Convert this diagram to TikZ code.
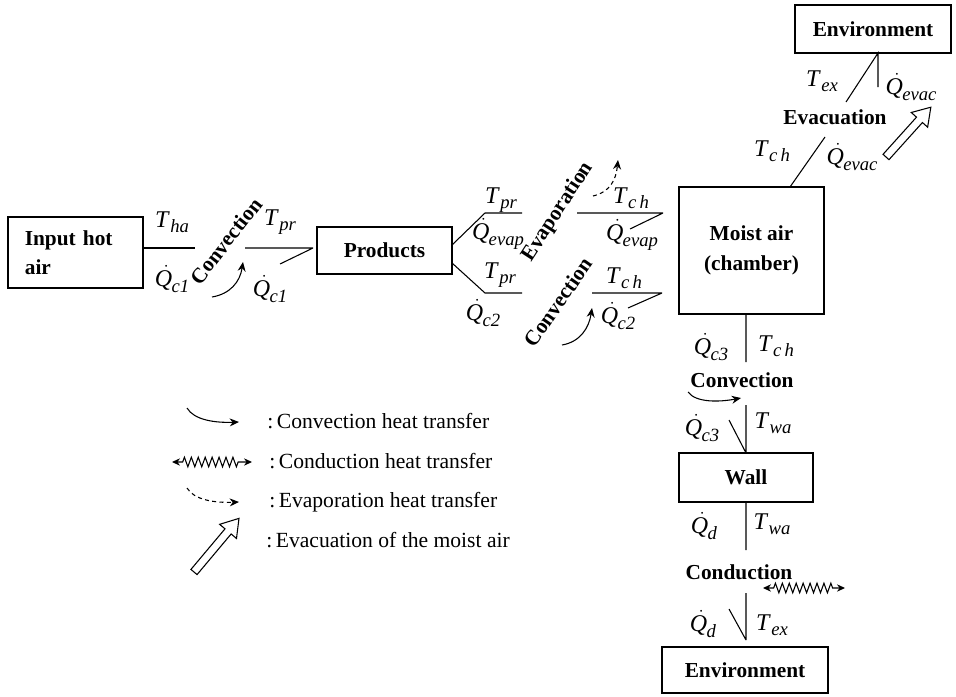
\documentclass[tikz,border=0pt]{standalone}
\usepackage{fontspec}
\setmainfont{Liberation Serif}
\usetikzlibrary{arrows.meta,decorations.pathmorphing,calc}
\newcommand\Tl[1]{\textit{T}\kern0.3pt\raisebox{-0.5ex}{\fontsize{14}{14}\selectfont\textit{#1}}}
\newcommand\Ql[1]{\ensuremath{\dot{\hbox{\itshape Q\kern4pt}}}\kern-4.5pt\raisebox{-0.5ex}{\fontsize{14}{14}\selectfont\textit{#1}}}
\tikzset{
  box/.style={draw, line width=0.9pt, inner sep=0pt, font=\fontsize{16}{22}\selectfont\bfseries, align=center},
  lab/.style={font=\fontsize{18}{18}\selectfont, inner sep=0pt},
  mode/.style={font=\fontsize{16}{16}\selectfont\bfseries, inner sep=0pt},
  leg/.style={font=\fontsize{16.2}{17}\selectfont, anchor=west, inner sep=0pt},
  wire/.style={line width=0.8pt},
  conv/.style={line width=0.8pt, -{Stealth[length=7pt,width=6pt]}},
  evap/.style={line width=0.8pt, dashed, dash pattern=on 3pt off 2.5pt, -{Stealth[length=7pt,width=6pt]}},
  cond/.style={line width=0.8pt, {Stealth[length=6pt,width=5.5pt]}-{Stealth[length=6pt,width=5.5pt]},
    decorate, decoration={zigzag, amplitude=3.6pt, segment length=5.2pt, pre length=8pt, post length=8pt}},
  pics/hollowarrow/.style={code={
    \draw[line width=0.8pt, fill=white] (0,-4) -- (#1-17,-4) -- (#1-17,-11) -- (#1,0) -- (#1-17,11) -- (#1-17,4) -- (0,4) -- cycle;}}
}
\begin{document}
\begin{tikzpicture}[x=0.75pt,y=-0.75pt]
\useasboundingbox (0,0) rectangle (956,696);
% boxes
\node[box, minimum width=101.25pt, minimum height=53.25pt, text width=76pt, align=left] (inp) at (75.5,252.5) {Input hot\\air};
\node[box, minimum width=101.25pt, minimum height=35.25pt] (prod) at (384.5,250.5) {Products};
\node[box, minimum width=108.75pt, minimum height=95.25pt] (ch) at (751.5,250.5) {Moist air\\(chamber)};
\node[box, minimum width=117pt, minimum height=36pt] (envt) at (873,29) {Environment};
\node[box, minimum width=100.5pt, minimum height=36.75pt] (wall) at (746,477.5) {Wall};
\node[box, minimum width=124.5pt, minimum height=34.5pt] (envb) at (745,670) {Environment};
% coordinates
\coordinate (a1) at (195,248);
\coordinate (a2) at (245,248); \coordinate (a3) at (313,248); \coordinate (a4) at (280,264);
\coordinate (p1) at (452,245); \coordinate (p2) at (485,213); \coordinate (p3) at (522,213);
\coordinate (p4) at (452,263); \coordinate (p5) at (485,293); \coordinate (p6) at (522,293);
\coordinate (c1) at (577,213); \coordinate (c2) at (663,213); \coordinate (c3) at (630,229);
\coordinate (c4) at (592,293); \coordinate (c5) at (662,293); \coordinate (c6) at (628,308);
\coordinate (e1) at (790,187); \coordinate (e2) at (825,137); \coordinate (e3) at (846,102); \coordinate (e4) at (878,53); \coordinate (e5) at (878,87);
\coordinate (w1) at (746,314); \coordinate (w2) at (746,362); \coordinate (w3) at (746,405); \coordinate (w4) at (746,453); \coordinate (w5) at (729,420);
\coordinate (d1) at (746,502); \coordinate (d2) at (746,550); \coordinate (d3) at (746,593); \coordinate (d4) at (746,640); \coordinate (d5) at (729,609);
% wires
\draw[wire] (inp.east |- a1) -- (a1);
\draw[wire] (a2) -- (a3) (a4) -- (a3);
\draw[wire] (p1) -- (p2) -- (p3);
\draw[wire] (p4) -- (p5) -- (p6);
\draw[wire] (c1) -- (c2) (c3) -- (c2);
\draw[wire] (c4) -- (c5) (c6) -- (c5);
\draw[wire] (e1) -- (e2) (e3) -- (e4) -- (e5);
\draw[wire] (w1) -- (w2) (w3) -- (w4) (w5) -- (w4);
\draw[wire] (d1) -- (d2) (d3) -- (d4) (d5) -- (d4);
% labels
\node[lab] (l1) at (172,222) {\Tl{ha}};
\node[lab] (l2) at (172,279) {\Ql{c1}};
\node[lab] (l3) at (280,222) {\Tl{pr}};
\node[lab] (l4) at (270,289) {\Ql{c1}};
\node[lab] (l5) at (501,200) {\Tl{pr}};
\node[lab] (l6) at (498,234) {\Ql{evap}};
\node[lab] (l7) at (500,275) {\Tl{pr}};
\node[lab] (l8) at (483,313) {\Ql{c2}};
\node[lab] (l9) at (631,198) {\Tl{c\,h}};
\node[lab] (l10) at (632,235) {\Ql{evap}};
\node[lab] (l11) at (624,278) {\Tl{c\,h}};
\node[lab] (l12) at (618,316) {\Ql{c2}};
\node[lab] (l13) at (822,81) {\Tl{ex}};
\node[lab] (l14) at (911,87) {\Ql{evac}};
\node[lab] (l15) at (772,151) {\Tl{c\,h}};
\node[lab] (l16) at (852,157) {\Ql{evac}};
\node[lab] (l17) at (711,347) {\Ql{c3}};
\node[lab] (l18) at (776,346) {\Tl{c\,h}};
\node[lab] (l19) at (702,428) {\Ql{c3}};
\node[lab] (l20) at (773,423) {\Tl{wa}};
\node[lab] (l21) at (704,526) {\Ql{d}};
\node[lab] (l22) at (772,524) {\Tl{wa}};
\node[lab] (l23) at (703,624) {\Ql{d}};
\node[lab] (l24) at (772,625) {\Tl{ex}};
% mode names
\node[mode, rotate=52] (m1) at (226,241) {Convection};
\node[mode, rotate=57] (m2) at (558,212) {Evaporation};
\node[mode, rotate=55] (m3) at (558,302) {Convection};
\node[mode] (m4) at (835,117) {Evacuation};
\node[mode] (m5) at (742,380) {Convection};
\node[mode] (m6) at (739,572) {Conduction};
% transfer arrows
\coordinate (k1) at (212,297); \coordinate (k2) at (243,262);
\draw[conv] (k1) .. controls (230,294) and (240,282) .. (k2);
\coordinate (k3) at (562,345); \coordinate (k4) at (592,308);
\draw[conv] (k3) .. controls (580,342) and (589,328) .. (k4);
\coordinate (k5) at (688,392); \coordinate (k6) at (741,398);
\draw[conv] (k5) .. controls (696,403) and (720,402) .. (k6);
\coordinate (k7) at (593,196); \coordinate (k8) at (618,160);
\draw[evap] (k7) .. controls (610,192) and (616,180) .. (k8);
\coordinate (k9) at (763,588); \coordinate (k10) at (845,588);
\draw[cond] (k9) -- (k10);
\pic[rotate=48] at (886,157) {hollowarrow=67};
% legend
\coordinate (g1) at (187,408); \coordinate (g2) at (239,422);
\draw[conv] (g1) .. controls (194,420) and (215,423) .. (g2);
\coordinate (g3) at (172,462); \coordinate (g4) at (252,462);
\draw[cond] (g3) -- (g4);
\coordinate (g5) at (187,488); \coordinate (g6) at (239,502);
\draw[evap] (g5) .. controls (194,500) and (215,503) .. (g6);
\pic[rotate=50] at (194,572) {hollowarrow=70};
\node[leg] (t1) at (267,421) {:\,Convection heat transfer};
\node[leg] (t2) at (269,461) {:\,Conduction heat transfer};
\node[leg] (t3) at (269,502) {:\,Evaporation heat transfer};
\node[leg] (t4) at (266,540) {:\,Evacuation of the moist air};
\end{tikzpicture}
\end{document}
